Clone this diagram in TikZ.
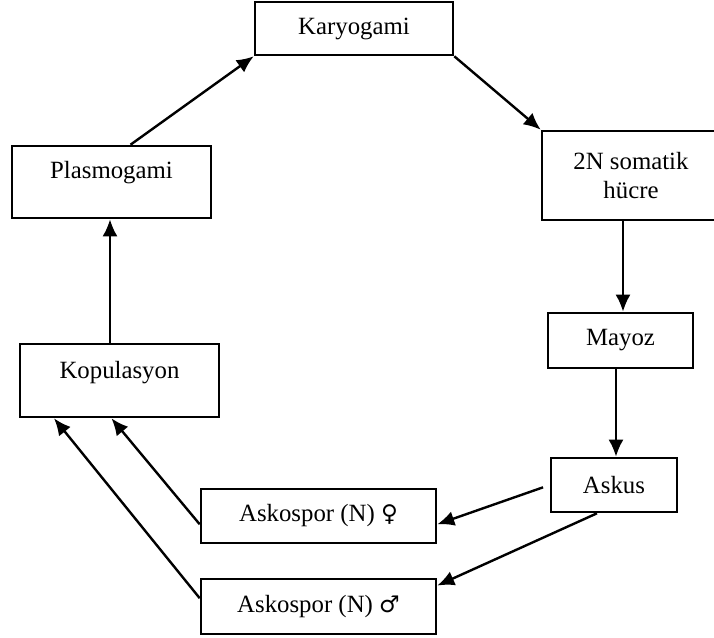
\documentclass[tikz,border=0pt]{standalone}
\usepackage{fontspec}
\setmainfont{Liberation Serif}
\newfontfamily\gendersym{DejaVu Sans}
\usetikzlibrary{arrows.meta,calc}

\tikzset{
  stage/.style={draw,line width=1.3pt,inner sep=2pt,align=center},
  flow/.style={line width=1.2pt,-{Latex[length=8.5pt,width=7.5pt]}}
}

\begin{document}
\begin{tikzpicture}[x=0.5pt,y=-0.5pt,font=\fontsize{12.4}{14.5}\selectfont]

\clip (0,0) rectangle (714,638);

% upper part of the cycle
\node[stage,minimum width=99pt,minimum height=26.5pt] (karyo) at (354,28.5) {Karyogami};
\node[stage,minimum width=99.5pt,minimum height=36pt,text depth=11.7pt] (plas) at (111.5,182) {Plasmogami};
\node[stage,minimum width=89pt,minimum height=44.5pt] (somatik) at (631,175.5) {2N somatik\\hücre};

% right side
\node[stage,minimum width=72.5pt,minimum height=27.5pt] (mayoz) at (620.5,340.5) {Mayoz};
\node[stage,minimum width=63pt,minimum height=27pt] (askus) at (614,485) {Askus};

% left side and spores
\node[stage,minimum width=99.5pt,minimum height=36.5pt,text depth=10.7pt] (kop) at (119.5,380.5) {Kopulasyon};
\node[stage,minimum width=117.5pt,minimum height=27pt] (fem) at (318.5,516) {Askospor (N) {\gendersym\fontsize{11.5}{14}\selectfont ♀}};
\node[stage,minimum width=117.5pt,minimum height=27.5pt] (male) at (318.5,606.5) {Askospor (N) {\gendersym\fontsize{11.5}{14}\selectfont ♂}};

\draw[flow] (plas.63) -- (karyo.south west);
\draw[flow] (karyo.south east) -- (somatik.north west);
\draw[flow] ($(somatik.south)+(-8,0)$) -- ($(mayoz.north)+(2.5,0)$);
\draw[flow] ($(mayoz.south)+(-4.5,0)$) -- ($(askus.north)+(2,0)$);
\draw[flow,shorten <=3.5pt] (askus.west) -- (fem.-4);
\draw[flow] (askus.239) -- (male.10);
\draw[flow] (fem.184) -- (kop.258);
\draw[flow] (male.176) -- (kop.210);
\draw[flow] ($(kop.north)+(-9.5,0)$) -- ($(plas.south)+(-1.5,0)$);

\end{tikzpicture}
\end{document}
